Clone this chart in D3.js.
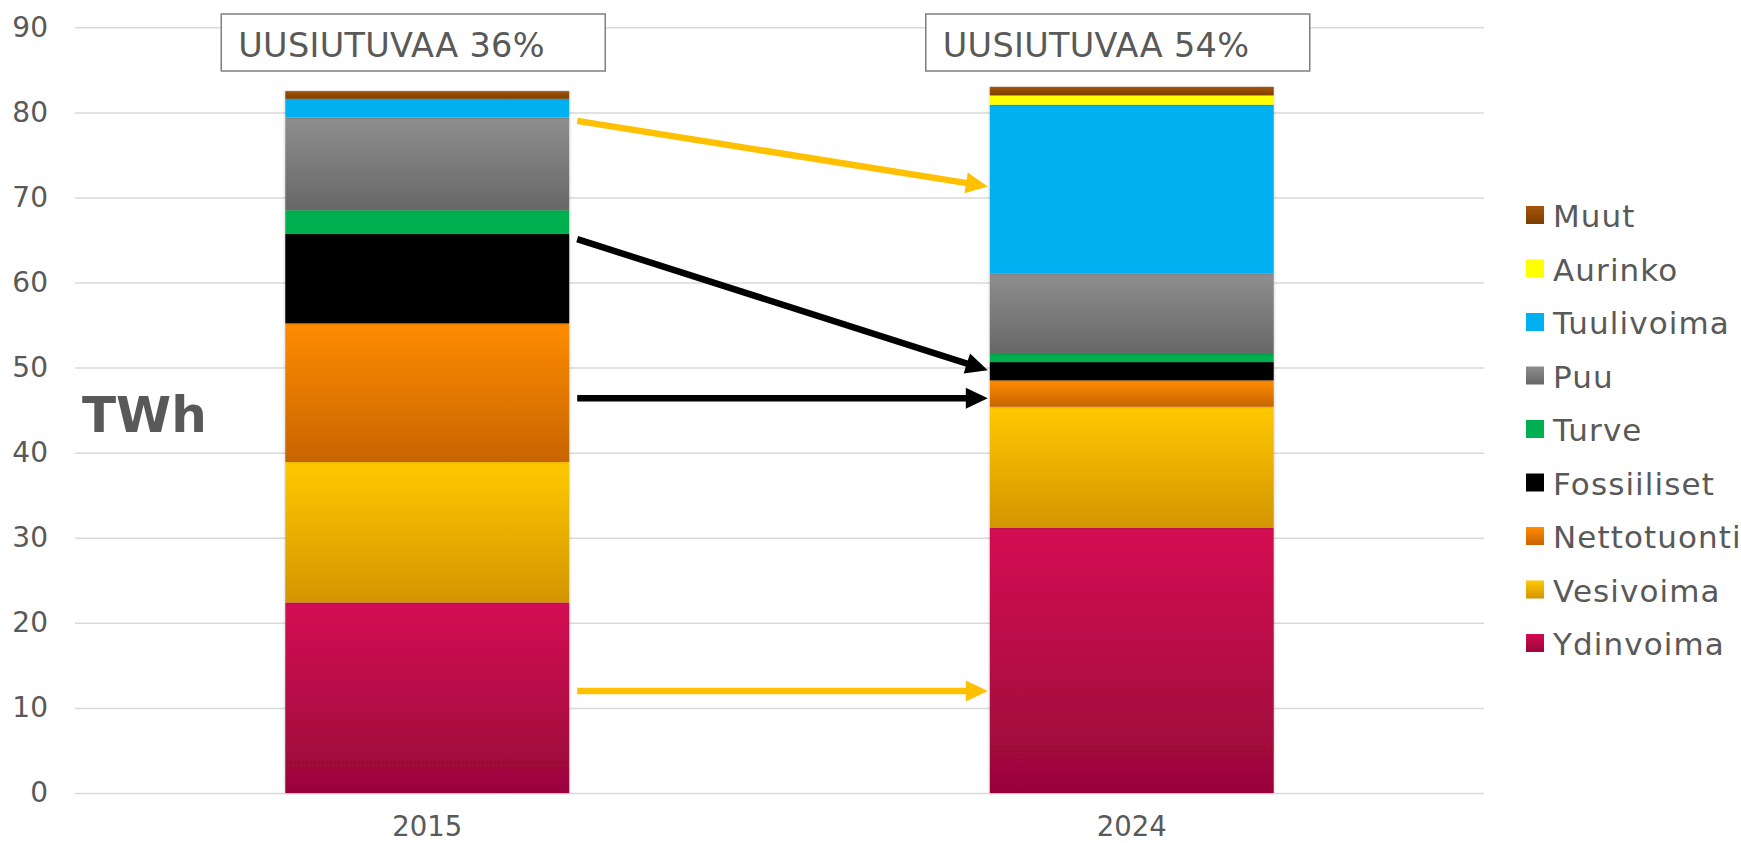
<!DOCTYPE html>
<html>
<head>
<meta charset="utf-8">
<script src="https://cdn.jsdelivr.net/npm/d3@7"></script>
<style>
  html, body { margin: 0; padding: 0; background: #fff; }
  svg { display: block; font-family: "DejaVu Sans", Verdana, sans-serif; }
</style>
</head>
<body>
<div id="chart"></div>
<script>
// vuodet ja tuotantomuodot (pinottu alhaalta ylös)
const years = ["2015", "2024"];
const sources = ["Ydinvoima", "Vesivoima", "Nettotuonti", "Fossiiliset", "Turve", "Puu", "Tuulivoima", "Aurinko", "Muut"];

// TWh per vuosi, samassa järjestyksessä kuin sources
const values2015 = [22.4, 16.5, 16.3, 10.5, 2.8, 10.9, 2.2, 0.0, 0.9];
const values2024 = [31.15, 14.25, 3.1, 2.15, 0.95, 9.45, 19.85, 1.1, 1.0];

const renewShare = ["UUSIUTUVAA 36%", "UUSIUTUVAA 54%"];
const yTicks = [0, 10, 20, 30, 40, 50, 60, 70, 80, 90];

// nuolet: arvo 2015 palkin kohdalla -> arvo 2024 palkin kohdalla
const arrows = [
  { from: 79.0, to: 71.3, color: "#FFC000" },
  { from: 65.1, to: 49.7, color: "#000000" },
  { from: 46.4, to: 46.4, color: "#000000" },
  { from: 12.0, to: 12.0, color: "#FFC000" }
];

// väri: [ylä, ala]
const colors = {
  Ydinvoima:   ["#D40B52", "#98063A"],
  Vesivoima:   ["#FFC900", "#D39500"],
  Nettotuonti: ["#FF8C00", "#C86400"],
  Fossiiliset: ["#000000", "#000000"],
  Turve:       ["#00B050", "#00B050"],
  Puu:         ["#8E8E8E", "#676767"],
  Tuulivoima:  ["#00B0F0", "#00B0F0"],
  Aurinko:     ["#FFFF00", "#FFFF00"],
  Muut:        ["#A5560A", "#7C3D00"]
};

const width = 1741, height = 843;
const textColor = "#595959";

const svg = d3.select("#chart").append("svg")
  .attr("width", width)
  .attr("height", height);

const defs = svg.append("defs");
sources.forEach((s, i) => {
  const g = defs.append("linearGradient")
    .attr("id", "grad" + i)
    .attr("x1", 0).attr("y1", 0).attr("x2", 0).attr("y2", 1);
  g.append("stop").attr("offset", "0%").attr("stop-color", colors[s][0]);
  g.append("stop").attr("offset", "100%").attr("stop-color", colors[s][1]);
});
defs.append("filter").attr("id", "shadow")
  .attr("x", "-5%").attr("y", "-5%").attr("width", "110%").attr("height", "110%")
  .append("feDropShadow")
  .attr("dx", 0).attr("dy", 0).attr("stdDeviation", 1.6)
  .attr("flood-color", "#000").attr("flood-opacity", 0.25);

const x = d3.scalePoint()
  .domain(years)
  .range([75, 1484])
  .padding(0.5);
const barW = x.step() * 0.403;

const y = d3.scaleLinear()
  .domain([0, 90])
  .range([793, 27.3]);

// ruudukko ja y-akseli
const yAxis = svg.append("g")
  .attr("transform", "translate(75,0)")
  .call(d3.axisLeft(y).tickValues(yTicks).tickSize(-(1484 - 75)).tickPadding(27));
yAxis.select(".domain").remove();
yAxis.selectAll(".tick line").attr("stroke", "#D9D9D9").attr("stroke-width", 1.5);
yAxis.selectAll(".tick text")
  .attr("fill", textColor)
  .attr("font-size", 28)
  .attr("font-family", "DejaVu Sans, Verdana, sans-serif");

// pinotut palkit
const table = years.map((yr, i) => {
  const row = { year: yr };
  const vals = i === 0 ? values2015 : values2024;
  sources.forEach((s, j) => row[s] = vals[j]);
  return row;
});
const series = d3.stack().keys(sources)(table);

svg.append("g").selectAll("g")
  .data(series)
  .join("g")
  .attr("fill", (d, i) => `url(#grad${i})`)
  .selectAll("rect")
  .data(d => d.filter(p => p[1] - p[0] > 0))
  .join("rect")
  .attr("x", d => x(d.data.year) - barW / 2)
  .attr("width", barW)
  .attr("y", d => y(d[1]))
  .attr("height", d => y(d[0]) - y(d[1]))
  .attr("filter", "url(#shadow)");

// x-akselin vuodet
svg.append("g").selectAll("text")
  .data(years)
  .join("text")
  .attr("x", d => x(d))
  .attr("y", 836)
  .attr("text-anchor", "middle")
  .attr("fill", textColor)
  .attr("font-size", 27.5)
  .text(d => d);

// uusiutuvan osuuden laatikot
const boxes = svg.append("g").selectAll("g")
  .data(years)
  .join("g")
  .attr("transform", d => `translate(${x(d) - 206},14)`);
boxes.append("rect")
  .attr("width", 384)
  .attr("height", 57)
  .attr("fill", "#fff")
  .attr("stroke", "#7F7F7F")
  .attr("stroke-width", 1.5);
boxes.append("text")
  .attr("x", 17)
  .attr("y", 43)
  .attr("fill", textColor)
  .attr("font-size", 33.5)
  .attr("letter-spacing", 0.3)
  .text((d, i) => renewShare[i]);

// TWh-otsikko
svg.append("text")
  .attr("x", 82)
  .attr("y", 432)
  .attr("fill", textColor)
  .attr("font-size", 50)
  .attr("font-weight", "bold")
  .text("TWh");

// nuolet
const x0 = x(years[0]) + barW / 2 + 8;
const x1 = x(years[1]) - barW / 2 - 2;
arrows.forEach(a => {
  const sx = x0, sy = y(a.from), tx = x1, ty = y(a.to);
  const ang = Math.atan2(ty - sy, tx - sx);
  const headLen = 22, headW = 10.5;
  const bx = tx - headLen * Math.cos(ang), by = ty - headLen * Math.sin(ang);
  const nx = -Math.sin(ang), ny = Math.cos(ang);
  svg.append("line")
    .attr("x1", sx).attr("y1", sy)
    .attr("x2", bx + Math.cos(ang)).attr("y2", by + Math.sin(ang))
    .attr("stroke", a.color)
    .attr("stroke-width", 6.5);
  svg.append("path")
    .attr("d", `M${tx},${ty}L${bx + nx * headW},${by + ny * headW}L${bx - nx * headW},${by - ny * headW}Z`)
    .attr("fill", a.color);
});

// selite
const legend = svg.append("g").selectAll("g")
  .data(sources.map((s, i) => ({ name: s, i })).reverse())
  .join("g")
  .attr("transform", (d, k) => `translate(1526,${206 + k * 53.5})`);
legend.append("rect")
  .attr("width", 18)
  .attr("height", 18)
  .attr("fill", d => `url(#grad${d.i})`);
legend.append("text")
  .attr("x", 27)
  .attr("y", 21)
  .attr("fill", textColor)
  .attr("font-size", 31)
  .attr("letter-spacing", 1.1)
  .text(d => d.name);
</script>
</body>
</html>
